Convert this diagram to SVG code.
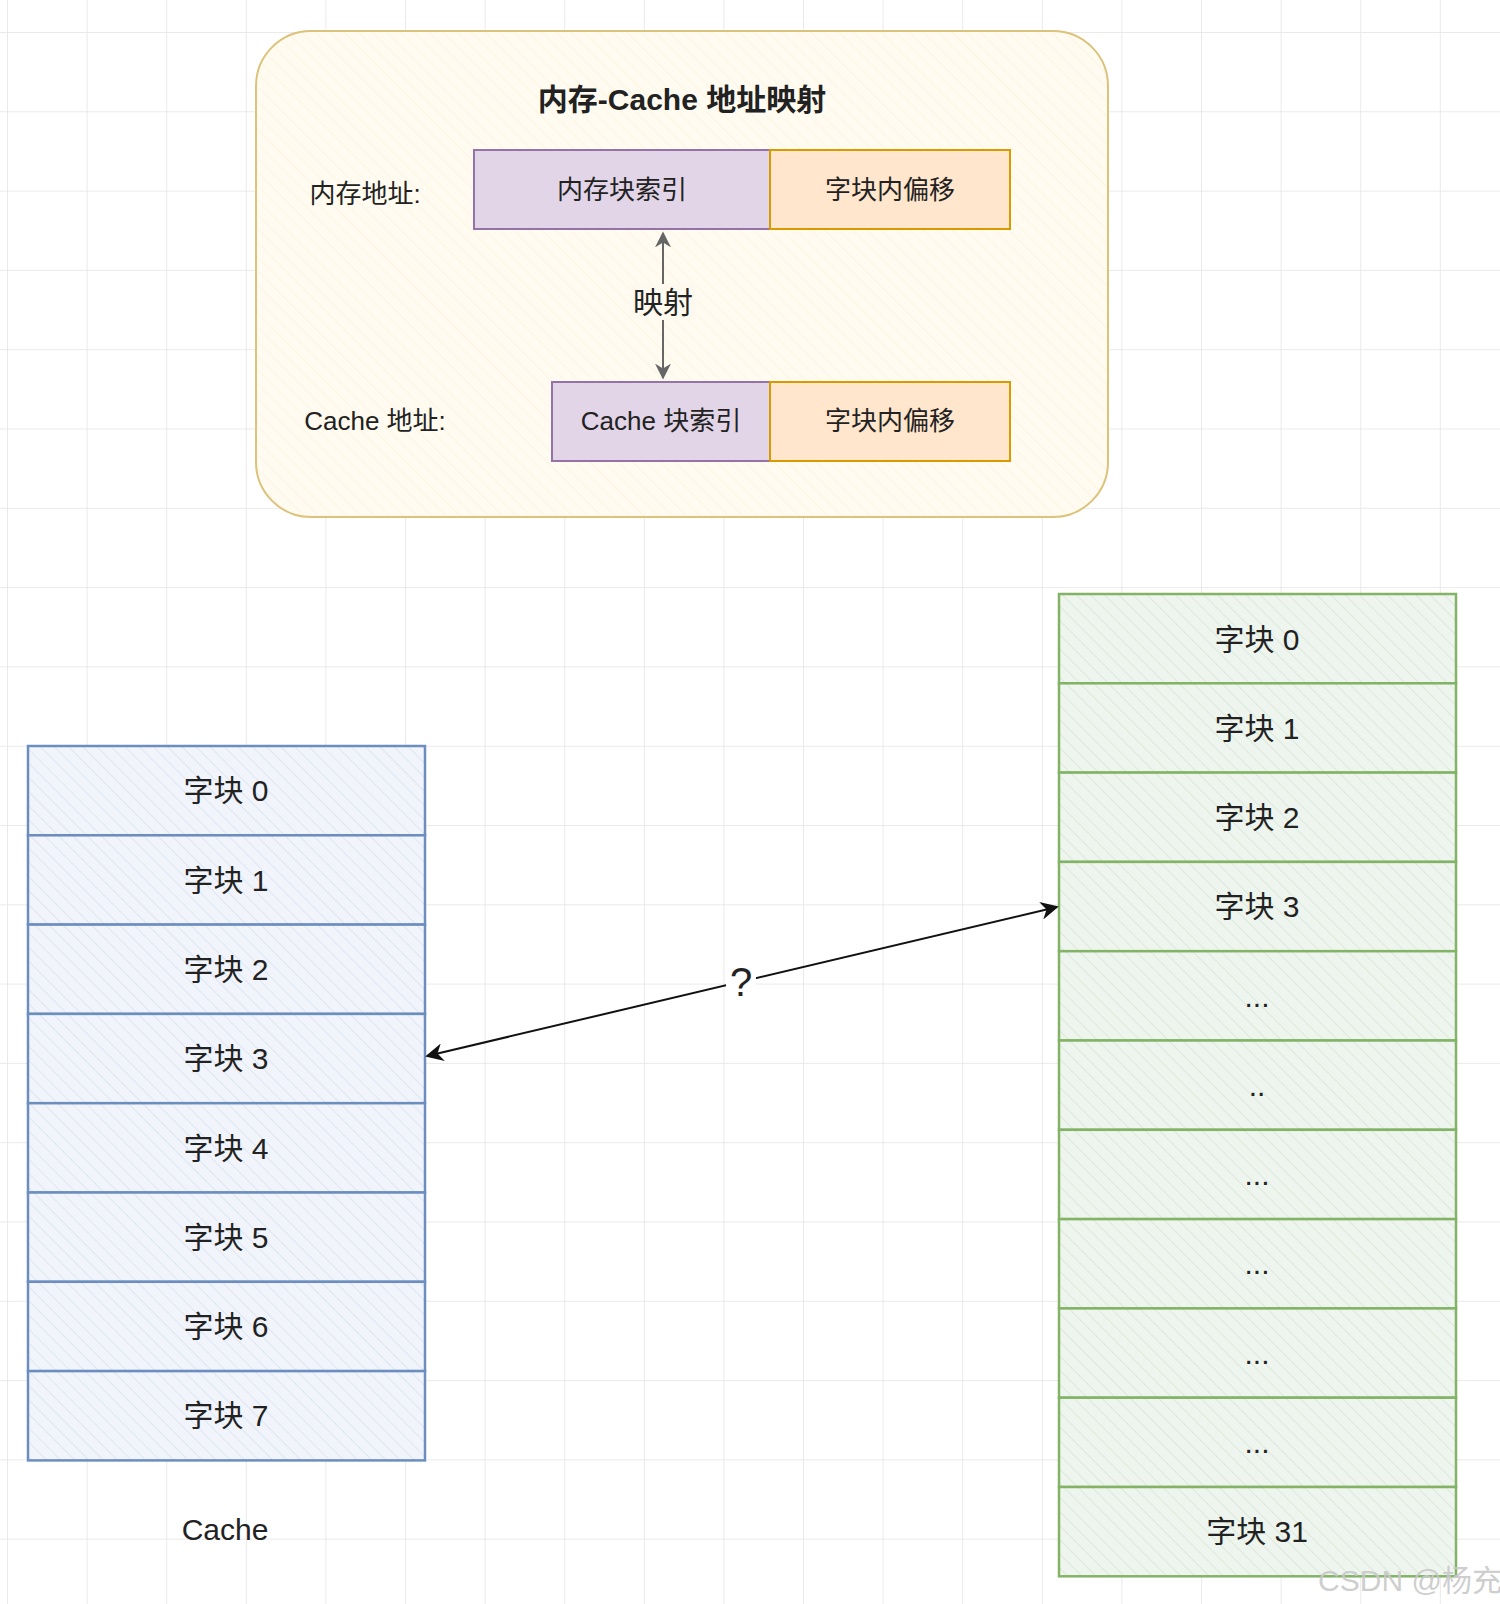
<svg xmlns="http://www.w3.org/2000/svg" width="1500" height="1604" viewBox="0 0 1500 1604">
<defs>
<pattern id="grid" x="7" y="32" width="79.6" height="79.3" patternUnits="userSpaceOnUse"><path d="M0 0H79.6M0 0V79.3" fill="none" stroke="#e4e4e4" stroke-width="1.5"/></pattern>
<pattern id="hb" width="10" height="10" patternUnits="userSpaceOnUse" patternTransform="rotate(-45)"><rect width="10" height="10" fill="#f1f5fb"/><line x1="0" y1="0" x2="0" y2="10" stroke="#d8e2f0" stroke-width="1.5"/></pattern>
<pattern id="hg" width="10" height="10" patternUnits="userSpaceOnUse" patternTransform="rotate(-45)"><rect width="10" height="10" fill="#eef5ee"/><line x1="0" y1="0" x2="0" y2="10" stroke="#d6e6d5" stroke-width="1.5"/></pattern>
<pattern id="hy" width="10" height="10" patternUnits="userSpaceOnUse" patternTransform="rotate(-45)"><rect width="10" height="10" fill="#fffbf0"/><line x1="0" y1="0" x2="0" y2="10" stroke="#fbf3df" stroke-width="1.5"/></pattern>
<marker id="ah" viewBox="0 0 10 10" refX="9" refY="5" markerWidth="9" markerHeight="9" orient="auto-start-reverse"><path d="M0 0L10 5L0 10L3 5z" fill="#111"/></marker>
<marker id="ag" viewBox="0 0 10 10" refX="9" refY="5" markerWidth="8" markerHeight="8" orient="auto-start-reverse"><path d="M0 0L10 5L0 10L3 5z" fill="#666"/></marker>
</defs>
<style>
text{font-family:"Liberation Sans","Noto Sans CJK SC",sans-serif;fill:#222;text-anchor:middle;dominant-baseline:central}
.c{font-size:30px}
.s{font-size:26px}
.b rect{fill:url(#hb);stroke:#6c8ebf;stroke-width:2.5}
.g rect{fill:url(#hg);stroke:#82b366;stroke-width:2.5}
.p{fill:#e1d5e7;stroke:#9673a6;stroke-width:2}
.o{fill:#ffe6cc;stroke:#d79b00;stroke-width:2}
</style>
<rect width="1500" height="1604" fill="#fff"/>
<rect width="1500" height="1604" fill="url(#grid)"/>
<g id="container"><rect x="256" y="31" width="852" height="486" rx="55" fill="url(#hy)" stroke="#dcc27a" stroke-width="2"/>
<text x="682" y="99" style="font-size:30px;font-weight:bold">内存-Cache 地址映射</text></g>
<g id="mem-label"><text x="365" y="194" class="s">内存地址:</text></g>
<g id="mem-index"><rect class="p" x="474" y="150" width="296" height="79"/><text x="622" y="190" class="s">内存块索引</text></g>
<g id="mem-offset"><rect class="o" x="770" y="150" width="240" height="79"/><text x="890" y="190" class="s">字块内偏移</text></g>
<g id="cache-label"><text x="375" y="421" class="s">Cache 地址:</text></g>
<g id="cache-index"><rect class="p" x="552" y="382" width="218" height="79"/><text x="661" y="421" class="s">Cache 块索引</text></g>
<g id="cache-offset"><rect class="o" x="770" y="382" width="240" height="79"/><text x="890" y="421" class="s">字块内偏移</text></g>
<g id="cache-blocks" class="b">
<g id="c0"><rect x="28" y="746" width="397" height="89.3"/><text x="226" y="790" class="c">字块 0</text></g>
<g id="c1"><rect x="28" y="835.3" width="397" height="89.3"/><text x="226" y="880" class="c">字块 1</text></g>
<g id="c2"><rect x="28" y="924.6" width="397" height="89.3"/><text x="226" y="969" class="c">字块 2</text></g>
<g id="c3"><rect x="28" y="1013.9" width="397" height="89.3"/><text x="226" y="1058" class="c">字块 3</text></g>
<g id="c4"><rect x="28" y="1103.2" width="397" height="89.3"/><text x="226" y="1148" class="c">字块 4</text></g>
<g id="c5"><rect x="28" y="1192.5" width="397" height="89.3"/><text x="226" y="1237" class="c">字块 5</text></g>
<g id="c6"><rect x="28" y="1281.8" width="397" height="89.3"/><text x="226" y="1326" class="c">字块 6</text></g>
<g id="c7"><rect x="28" y="1371.1" width="397" height="89.3"/><text x="226" y="1415" class="c">字块 7</text></g>
</g>
<g id="cache-title"><text x="225" y="1529" class="c">Cache</text></g>
<g id="mem-blocks" class="g">
<g id="m0"><rect x="1059" y="594" width="397" height="89.3"/><text x="1257" y="639" class="c">字块 0</text></g>
<g id="m1"><rect x="1059" y="683.3" width="397" height="89.3"/><text x="1257" y="728" class="c">字块 1</text></g>
<g id="m2"><rect x="1059" y="772.6" width="397" height="89.3"/><text x="1257" y="817" class="c">字块 2</text></g>
<g id="m3"><rect x="1059" y="861.9" width="397" height="89.3"/><text x="1257" y="906" class="c">字块 3</text></g>
<g id="m4"><rect x="1059" y="951.2" width="397" height="89.3"/><text x="1257" y="996" class="c">...</text></g>
<g id="m5"><rect x="1059" y="1040.5" width="397" height="89.3"/><text x="1257" y="1085" class="c">..</text></g>
<g id="m6"><rect x="1059" y="1129.8" width="397" height="89.3"/><text x="1257" y="1174" class="c">...</text></g>
<g id="m7"><rect x="1059" y="1219.1" width="397" height="89.3"/><text x="1257" y="1263" class="c">...</text></g>
<g id="m8"><rect x="1059" y="1308.4" width="397" height="89.3"/><text x="1257" y="1353" class="c">...</text></g>
<g id="m9"><rect x="1059" y="1397.7" width="397" height="89.3"/><text x="1257" y="1442" class="c">...</text></g>
<g id="m31"><rect x="1059" y="1487" width="397" height="89.3"/><text x="1257" y="1531" class="c">字块 31</text></g>
</g>
<g id="connectors">
<line x1="663" y1="233" x2="663" y2="378" stroke="#666" stroke-width="2" marker-start="url(#ag)" marker-end="url(#ag)"/>
<rect x="630" y="284" width="66" height="36" fill="#fdf9ee"/>
<text x="663" y="302" style="font-size:30px">映射</text>
<line x1="427" y1="1056" x2="1057" y2="907" stroke="#111" stroke-width="2" marker-start="url(#ah)" marker-end="url(#ah)"/>
<rect x="726" y="962" width="30" height="40" fill="#fff"/>
<text x="741" y="982" style="font-size:40px">?</text>
</g>
<text x="1410" y="1580" style="font-size:30px;fill:#c8c8c8;fill-opacity:0.9">CSDN @杨充</text>
</svg>
